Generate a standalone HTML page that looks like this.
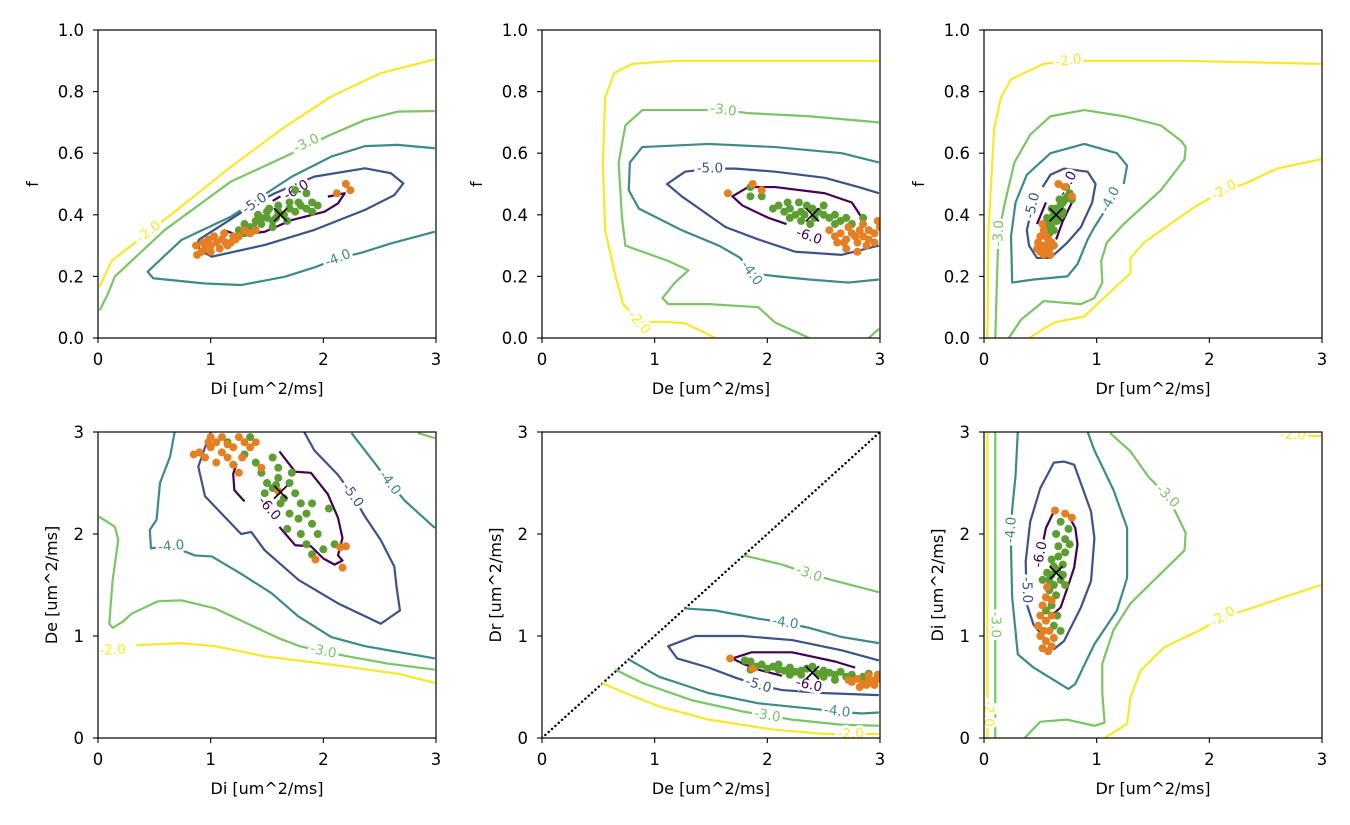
<!DOCTYPE html>
<html><head><meta charset="utf-8">
<style>
html,body{margin:0;padding:0;background:#fff;}
svg{display:block;font-family:"DejaVu Sans","Liberation Sans",sans-serif;}
</style></head>
<body>
<svg id="fig" width="1350" height="825" viewBox="0 0 1350 825"></svg>
<script>
// ---- data ----
const levels = [-6,-5,-4,-3,-2];
const levelColors = {"-6":"#440154","-5":"#3b528b","-4":"#3d8a88","-3":"#7ac564","-2":"#fde725"};

const p1_c2 = [[0.015,0.167],[0.12,0.25],[0.33,0.31],[0.68,0.41],[1.18,0.556],[1.66,0.686],[2.07,0.784],[2.51,0.86],[2.99,0.905]];
const p1_c3 = [[0.015,0.09],[0.09,0.145],[0.15,0.2],[0.59,0.35],[1.18,0.508],[1.66,0.589],[2.04,0.656],[2.37,0.708],[2.66,0.735],[2.99,0.737]];
const p1_c4 = [[2.99,0.616],[2.66,0.627],[2.37,0.623],[2.07,0.589],[1.72,0.524],[1.18,0.394],[0.74,0.318],[0.55,0.253],[0.44,0.215],[0.49,0.194],[0.95,0.177],[1.27,0.172],[1.66,0.199],[1.92,0.229],[2.13,0.259],[2.34,0.277],[2.6,0.307],[2.99,0.345]];
const p1_c5 = [[0.89,0.318],[1.24,0.4],[1.39,0.437],[1.57,0.47],[1.92,0.524],[2.37,0.551],[2.6,0.535],[2.71,0.502],[2.63,0.464],[2.37,0.416],[1.92,0.351],[1.48,0.302],[1.01,0.264],[0.9,0.286],[0.89,0.318]];
const p1_c6 = [[2.04,0.459],[2.19,0.47],[2.13,0.437],[2.01,0.41],[1.72,0.383],[1.48,0.345],[1.24,0.334],[1.12,0.35]];
const p1_c6b = [[1.55,0.445],[1.62,0.46]];
const p1_labels = [[-2,0.45,0.345],[-3,1.85,0.632],[-4,2.13,0.259],[-5,1.39,0.437],[-6,1.76,0.48]];
const p1_green = [[1.25,0.35],[1.3,0.37],[1.35,0.36],[1.4,0.38],[1.45,0.37],[1.5,0.39],[1.55,0.38],[1.5,0.41],[1.6,0.41],[1.65,0.40],[1.7,0.42],[1.75,0.41],[1.8,0.43],[1.85,0.42],[1.9,0.44],[1.95,0.43],[1.7,0.44],[1.6,0.43],[1.42,0.40],[1.85,0.47],[1.75,0.48],[1.55,0.36],[1.3,0.34],[1.9,0.41],[1.68,0.38],[1.45,0.39],[1.58,0.39],[1.78,0.44],[1.38,0.36],[1.52,0.42]];
const p1_orange = [[0.87,0.30],[0.88,0.27],[0.95,0.29],[1.0,0.30],[1.05,0.31],[1.0,0.28],[1.1,0.32],[1.15,0.30],[1.2,0.33],[0.93,0.31],[1.08,0.29],[1.25,0.33],[1.3,0.35],[1.35,0.34],[1.4,0.35],[1.18,0.31],[0.98,0.32],[1.12,0.34],[2.2,0.50],[2.24,0.48],[2.12,0.47],[0.92,0.28],[1.03,0.33],[0.96,0.30],[1.13,0.31],[1.22,0.32]];
const p1_truth = [1.62,0.40];

const p2_c2 = [[2.99,0.90],[2.07,0.90],[1.18,0.90],[0.80,0.89],[0.64,0.86],[0.56,0.78],[0.54,0.57],[0.56,0.35],[0.64,0.22],[0.72,0.11],[0.86,0.05],[1.07,0.053],[1.27,0.048],[1.54,0.0]];
const p2_c3 = [[2.99,0.70],[2.37,0.72],[1.83,0.73],[1.61,0.74],[1.41,0.74],[0.89,0.74],[0.74,0.69],[0.68,0.57],[0.71,0.39],[0.74,0.30],[1.12,0.25],[1.30,0.22],[1.18,0.18],[1.07,0.13],[1.12,0.11],[1.48,0.11],[1.92,0.10],[2.07,0.05],[2.37,0.0]];
const p2_c3b = [[2.99,0.03],[2.90,0.0]];
const p2_c4 = [[2.99,0.57],[2.66,0.60],[2.07,0.62],[1.48,0.63],[0.89,0.62],[0.78,0.57],[0.77,0.48],[0.86,0.42],[1.24,0.35],[1.57,0.30],[1.76,0.26],[1.86,0.21],[2.09,0.20],[2.37,0.19],[2.72,0.18],[2.99,0.19]];
const p2_c5 = [[2.99,0.47],[2.81,0.49],[2.51,0.52],[2.07,0.54],[1.72,0.55],[1.49,0.55],[1.27,0.54],[1.11,0.50],[1.24,0.46],[1.63,0.36],[1.92,0.32],[2.25,0.28],[2.66,0.27],[2.99,0.30]];
const p2_c6 = [[2.84,0.39],[2.75,0.44],[2.51,0.47],[2.07,0.49],[1.83,0.49],[1.69,0.46],[1.78,0.43],[2.01,0.39],[2.17,0.37]];
const p2_labels = [[-2,0.86,0.05],[-3,1.61,0.74],[-4,1.86,0.21],[-5,1.49,0.55],[-6,2.37,0.33]];
const p2_green = [[1.85,0.46],[1.85,0.49],[1.95,0.46],[2.1,0.43],[2.15,0.41],[2.2,0.42],[2.25,0.40],[2.3,0.41],[2.35,0.43],[2.4,0.42],[2.45,0.41],[2.5,0.40],[2.55,0.39],[2.6,0.40],[2.65,0.38],[2.7,0.39],[2.75,0.37],[2.85,0.39],[2.9,0.35],[2.3,0.38],[2.2,0.39],[2.5,0.43],[2.38,0.37],[2.05,0.42],[2.28,0.44],[2.42,0.39],[2.18,0.44],[2.6,0.37],[2.33,0.40]];
const p2_orange = [[1.65,0.47],[1.87,0.50],[1.95,0.48],[2.55,0.35],[2.6,0.33],[2.65,0.34],[2.7,0.32],[2.75,0.34],[2.8,0.31],[2.85,0.33],[2.9,0.35],[2.95,0.34],[3.0,0.36],[2.7,0.29],[2.8,0.28],[2.88,0.30],[2.95,0.31],[2.62,0.31],[2.72,0.36],[2.98,0.38],[2.85,0.37],[2.78,0.33],[2.9,0.32],[2.68,0.31],[2.82,0.35]];
const p2_truth = [2.40,0.40];

const p3_c2 = [[0.03,0.0],[0.04,0.35],[0.09,0.68],[0.15,0.78],[0.24,0.84],[0.53,0.89],[0.75,0.90],[0.96,0.90],[1.78,0.90],[2.99,0.89]];
const p3_c2b = [[0.40,0.0],[0.62,0.05],[0.89,0.07],[1.18,0.17],[1.30,0.21],[1.30,0.26],[1.42,0.31],[1.69,0.38],[1.89,0.43],[2.13,0.48],[2.31,0.50],[2.60,0.55],[2.99,0.58]];
const p3_c3 = [[0.10,0.0],[0.12,0.25],[0.13,0.34],[0.18,0.43],[0.27,0.57],[0.41,0.66],[0.59,0.72],[0.89,0.74],[1.24,0.72],[1.57,0.69],[1.75,0.64],[1.79,0.62],[1.78,0.58],[1.57,0.48],[1.24,0.37],[1.09,0.31],[1.04,0.25],[1.05,0.18],[0.98,0.13],[0.86,0.11],[0.53,0.12],[0.33,0.06],[0.22,0.0]];
const p3_c4 = [[1.24,0.50],[1.27,0.56],[1.18,0.60],[0.89,0.63],[0.59,0.60],[0.38,0.53],[0.28,0.44],[0.24,0.33],[0.25,0.18],[0.44,0.19],[0.74,0.20],[0.83,0.24],[0.92,0.32],[0.98,0.36],[1.05,0.40],[1.12,0.45]];
const p3_c5 = [[0.43,0.43],[0.38,0.35],[0.40,0.30],[0.47,0.26],[0.59,0.26],[0.74,0.31],[0.86,0.36],[0.96,0.44],[0.99,0.50],[0.92,0.54],[0.71,0.55],[0.59,0.53],[0.52,0.49]];
const p3_c6 = [[0.55,0.44],[0.47,0.37]];
const p3_c6b = [[0.78,0.44],[0.70,0.38],[0.64,0.32]];
const p3_labels = [[-2,0.75,0.90],[-2,2.13,0.48],[-3,0.13,0.34],[-4,1.12,0.45],[-5,0.43,0.43],[-6,0.74,0.50]];
const p3_green = [[0.55,0.36],[0.58,0.38],[0.6,0.37],[0.62,0.40],[0.64,0.42],[0.66,0.41],[0.68,0.43],[0.7,0.44],[0.72,0.45],[0.74,0.46],[0.76,0.47],[0.78,0.45],[0.73,0.49],[0.62,0.35],[0.58,0.34],[0.65,0.38],[0.7,0.41],[0.56,0.39],[0.6,0.42],[0.67,0.45],[0.63,0.39],[0.69,0.40],[0.57,0.36]];
const p3_orange = [[0.47,0.29],[0.5,0.28],[0.53,0.27],[0.55,0.30],[0.58,0.29],[0.6,0.31],[0.5,0.33],[0.53,0.35],[0.57,0.32],[0.62,0.30],[0.48,0.31],[0.55,0.33],[0.72,0.49],[0.78,0.46],[0.66,0.50],[0.52,0.37],[0.59,0.27],[0.52,0.30],[0.56,0.28]];
const p3_truth = [0.64,0.40];

const p4_c2 = [[0.34,0.91],[0.74,0.93],[1.04,0.90],[1.48,0.80],[2.07,0.72],[2.66,0.63],[2.99,0.54]];
const p4_c3 = [[0.01,2.17],[0.15,2.07],[0.18,1.94],[0.13,1.55],[0.10,1.12],[0.13,1.08],[0.22,1.14],[0.30,1.22],[0.53,1.34],[0.74,1.35],[1.04,1.27],[1.33,1.12],[1.60,0.98],[1.79,0.90],[2.00,0.85],[2.22,0.80],[2.57,0.73],[2.99,0.67]];
const p4_c3b = [[2.84,2.99],[2.99,2.94]];
const p4_c4 = [[0.68,3.0],[0.64,2.76],[0.55,2.50],[0.52,2.14],[0.46,2.04],[0.47,1.86],[0.65,1.88],[0.86,1.79],[1.01,1.78],[1.27,1.61],[1.54,1.42],[1.78,1.19],[2.07,0.99],[2.37,0.90],[2.99,0.78]];
const p4_c4b = [[2.25,2.99],[2.46,2.69],[2.59,2.50],[2.72,2.33],[2.99,2.06]];
const p4_c5 = [[1.83,3.0],[1.92,2.82],[2.13,2.58],[2.26,2.38],[2.37,2.17],[2.51,1.94],[2.63,1.68],[2.65,1.48],[2.68,1.25],[2.51,1.12],[2.13,1.32],[1.78,1.55],[1.48,1.84],[1.36,2.02],[1.27,2.00],[0.95,2.37],[0.89,2.66],[0.95,2.85],[1.0,3.0]];
const p4_c6 = [[1.61,2.81],[1.75,2.61],[1.89,2.60],[2.04,2.39],[2.13,2.16],[2.17,1.96],[2.13,1.79],[2.17,1.74],[2.10,1.70],[2.00,1.76],[1.89,1.88],[1.75,1.89],[1.61,2.07]];
const p4_c6b = [[1.30,2.32],[1.21,2.43],[1.20,2.59],[1.23,2.69]];
const p4_labels = [[-2,0.13,0.86],[-3,2.00,0.85],[-4,0.65,1.88],[-4,2.59,2.50],[-5,2.26,2.38],[-6,1.52,2.25]];
const p4_green = [[1.15,2.9],[1.35,2.95],[1.3,2.78],[1.4,2.7],[1.45,2.6],[1.5,2.5],[1.55,2.45],[1.6,2.55],[1.7,2.5],[1.75,2.4],[1.65,2.35],[1.8,2.3],[1.85,2.2],[1.7,2.2],[1.9,2.1],[1.95,2.0],[1.8,2.0],[1.85,1.9],[2.0,1.85],[2.1,1.9],[1.9,1.8],[1.6,2.65],[1.48,2.4],[2.05,2.25],[1.55,2.75],[1.62,2.3],[1.78,2.15],[1.72,2.6],[1.9,2.3],[1.58,2.48],[1.68,2.05]];
const p4_orange = [[0.9,2.8],[0.95,2.75],[1.0,2.85],[1.05,2.9],[1.1,2.8],[1.15,2.75],[1.2,2.85],[1.25,2.95],[1.3,2.9],[1.0,2.95],[1.1,2.95],[1.35,2.85],[1.4,2.9],[0.85,2.78],[1.05,2.7],[1.2,2.68],[1.45,2.65],[1.6,2.42],[1.93,1.75],[2.15,1.87],[2.2,1.88],[2.17,1.67],[1.25,2.6],[0.98,2.9],[1.15,2.88],[1.28,2.75]];
const p4_truth = [1.62,2.41];

const p5_c2 = [[0.53,0.54],[0.74,0.44],[1.04,0.31],[1.48,0.18],[2.07,0.08],[2.51,0.04],[2.74,0.04],[2.99,0.04]];
const p5_c3 = [[0.65,0.67],[0.89,0.54],[1.33,0.37],[1.78,0.26],[2.00,0.22],[2.22,0.18],[2.66,0.13],[2.99,0.12]];
const p5_c3b = [[1.79,1.79],[2.13,1.70],[2.37,1.61],[2.57,1.55],[2.99,1.43]];
const p5_c4 = [[1.27,1.27],[1.54,1.25],[1.92,1.17],[2.16,1.13],[2.37,1.08],[2.66,0.99],[2.99,0.93]];
const p5_c4b = [[0.77,0.77],[1.04,0.60],[1.48,0.44],[1.92,0.34],[2.37,0.29],[2.62,0.26],[2.84,0.24],[2.99,0.25]];
const p5_c5 = [[2.99,0.76],[2.66,0.86],[2.22,0.96],[1.78,1.0],[1.36,1.0],[1.12,0.90],[1.20,0.78],[1.48,0.69],[1.72,0.59],[1.92,0.52],[2.13,0.47],[2.51,0.44],[2.99,0.42]];
const p5_c6 = [[2.78,0.69],[2.60,0.75],[2.22,0.84],[1.86,0.84],[1.69,0.78],[1.78,0.73],[1.92,0.67],[2.13,0.61]];
const p5_labels = [[-2,2.74,0.04],[-3,2.00,0.22],[-3,2.37,1.61],[-4,2.16,1.13],[-4,2.62,0.26],[-5,1.92,0.52],[-6,2.37,0.52]];
const p5_green = [[1.8,0.76],[1.85,0.75],[1.9,0.7],[1.95,0.72],[2.0,0.68],[2.05,0.7],[2.1,0.67],[2.15,0.66],[2.2,0.69],[2.25,0.65],[2.3,0.66],[2.35,0.68],[2.45,0.63],[2.5,0.66],[2.55,0.64],[2.6,0.62],[2.65,0.65],[2.7,0.6],[2.75,0.62],[2.85,0.6],[2.9,0.63],[2.6,0.57],[1.85,0.67],[2.2,0.62],[2.4,0.70],[2.3,0.62],[2.5,0.60],[2.1,0.72]];
const p5_orange = [[1.67,0.78],[1.87,0.68],[2.75,0.55],[2.8,0.58],[2.85,0.53],[2.9,0.56],[2.95,0.52],[3.0,0.58],[2.82,0.5],[2.9,0.61],[2.98,0.62],[2.72,0.57],[2.88,0.52],[2.96,0.57]];
const p5_truth = [2.40,0.64];

const p6_c2 = [[0.03,3.0],[0.03,0.0]];
const p6_c2b = [[1.07,0.0],[1.27,0.14],[1.30,0.40],[1.39,0.66],[1.60,0.89],[1.92,1.06],[2.12,1.19],[2.31,1.25],[2.66,1.38],[2.99,1.50]];
const p6_c2c = [[2.6,2.97],[2.99,2.96]];
const p6_c3 = [[0.10,3.0],[0.10,0.0]];
const p6_c3b = [[1.12,2.99],[1.30,2.81],[1.46,2.56],[1.63,2.37],[1.72,2.17],[1.79,2.01],[1.78,1.84],[1.54,1.58],[1.30,1.32],[1.15,1.06],[1.05,0.73],[1.05,0.44],[1.07,0.15],[0.98,0.12],[0.74,0.18],[0.50,0.16],[0.36,0.0]];
const p6_c4 = [[0.30,3.0],[0.28,2.57],[0.25,2.24],[0.24,2.04],[0.24,1.84],[0.25,1.38],[0.30,0.82],[0.44,0.69],[0.75,0.48],[0.81,0.53],[0.98,0.92],[1.18,1.25],[1.27,1.57],[1.27,2.06],[1.15,2.43],[0.98,2.82],[0.92,3.0]];
const p6_c5 = [[0.38,1.31],[0.44,1.11],[0.56,0.95],[0.62,0.87],[0.71,0.95],[0.86,1.28],[0.95,1.54],[0.98,1.96],[0.95,2.22],[0.80,2.68],[0.71,2.71],[0.62,2.70],[0.50,2.45],[0.41,2.12],[0.37,1.73],[0.38,1.31]];
const p6_c6 = [[0.62,2.22],[0.55,2.06],[0.52,1.9]];
const p6_c6b = [[0.74,2.20],[0.81,2.06],[0.83,1.90],[0.80,1.67],[0.74,1.47],[0.68,1.28],[0.62,1.22]];
const p6_labels = [[-2,0.04,0.24],[-2,2.74,2.97],[-2,2.12,1.19],[-3,0.10,1.11],[-3,1.63,2.37],[-4,0.24,2.04],[-5,0.38,1.45],[-6,0.50,1.80]];
const p6_green = [[0.64,2.0],[0.68,2.12],[0.75,2.05],[0.72,1.95],[0.76,1.9],[0.72,1.82],[0.66,1.78],[0.7,1.7],[0.6,1.75],[0.65,1.65],[0.6,1.6],[0.68,1.55],[0.62,1.5],[0.56,1.62],[0.58,1.45],[0.64,1.4],[0.6,1.3],[0.55,1.25],[0.65,1.2],[0.62,1.1],[0.68,1.05],[0.72,1.5],[0.52,1.55],[0.66,1.88],[0.62,1.68],[0.7,1.6],[0.58,1.55]];
const p6_orange = [[0.63,2.23],[0.72,2.2],[0.78,2.16],[0.55,1.38],[0.52,1.3],[0.5,1.2],[0.55,1.15],[0.58,1.05],[0.5,1.0],[0.55,0.95],[0.6,0.9],[0.52,0.88],[0.62,0.98],[0.57,0.85],[0.48,1.1],[0.6,1.35],[0.56,1.48],[0.53,1.05],[0.6,1.2]];
const p6_truth = [0.64,1.62];

const topYTicks = [0.0,0.2,0.4,0.6,0.8,1.0];
const botYTicks = [0,1,2,3];
const xTicks = [0,1,2,3];

// ---- layout ----
const NS = "http://www.w3.org/2000/svg";
const svg = document.getElementById('fig');
function mk(tag, attrs, parent){const e=document.createElementNS(NS,tag);for(const k in attrs)e.setAttribute(k,attrs[k]);(parent||svg).appendChild(e);return e;}

const panels = [
 {name:'di-f', x0:98, y0:30, h:308, ymax:1, yt:topYTicks, yfmt:v=>v.toFixed(1), xl:'Di [um^2/ms]', yl:'f',
  cs:[[-2,p1_c2],[-3,p1_c3],[-4,p1_c4],[-5,p1_c5],[-6,p1_c6],[-6,p1_c6b]], labels:p1_labels, g:p1_green, o:p1_orange, t:p1_truth},
 {name:'de-f', x0:542, y0:30, h:308, ymax:1, yt:topYTicks, yfmt:v=>v.toFixed(1), xl:'De [um^2/ms]', yl:'f',
  cs:[[-2,p2_c2],[-3,p2_c3],[-3,p2_c3b],[-4,p2_c4],[-5,p2_c5],[-6,p2_c6]], labels:p2_labels, g:p2_green, o:p2_orange, t:p2_truth},
 {name:'dr-f', x0:984, y0:30, h:308, ymax:1, yt:topYTicks, yfmt:v=>v.toFixed(1), xl:'Dr [um^2/ms]', yl:'f',
  cs:[[-2,p3_c2],[-2,p3_c2b],[-3,p3_c3],[-4,p3_c4],[-5,p3_c5],[-6,p3_c6],[-6,p3_c6b]], labels:p3_labels, g:p3_green, o:p3_orange, t:p3_truth},
 {name:'di-de', x0:98, y0:432, h:306, ymax:3, yt:botYTicks, yfmt:v=>String(v), xl:'Di [um^2/ms]', yl:'De [um^2/ms]',
  cs:[[-2,p4_c2],[-3,p4_c3],[-3,p4_c3b],[-4,p4_c4],[-4,p4_c4b],[-5,p4_c5],[-6,p4_c6],[-6,p4_c6b]], labels:p4_labels, g:p4_green, o:p4_orange, t:p4_truth},
 {name:'de-dr', x0:542, y0:432, h:306, ymax:3, yt:botYTicks, yfmt:v=>String(v), xl:'De [um^2/ms]', yl:'Dr [um^2/ms]', diag:true,
  cs:[[-2,p5_c2],[-3,p5_c3],[-3,p5_c3b],[-4,p5_c4],[-4,p5_c4b],[-5,p5_c5],[-6,p5_c6]], labels:p5_labels, g:p5_green, o:p5_orange, t:p5_truth},
 {name:'dr-di', x0:984, y0:432, h:306, ymax:3, yt:botYTicks, yfmt:v=>String(v), xl:'Dr [um^2/ms]', yl:'Di [um^2/ms]',
  cs:[[-2,p6_c2],[-2,p6_c2b],[-2,p6_c2c],[-3,p6_c3],[-3,p6_c3b],[-4,p6_c4],[-5,p6_c5],[-6,p6_c6],[-6,p6_c6b]], labels:p6_labels, g:p6_green, o:p6_orange, t:p6_truth}
];
const W = 338;

panels.forEach((p,pi)=>{
  const sx = v => p.x0 + v/3*W;
  const sy = v => p.y0 + p.h - v/p.ymax*p.h;
  const g = mk('g',{});
  
  
  const cid = 'clip'+pi;
  const cp = mk('clipPath',{id:cid},g); mk('rect',{x:p.x0,y:p.y0,width:W,height:p.h},cp);
  const plot = mk('g',{'clip-path':'url(#'+cid+')'},g);

  if(p.diag){
    const d = mk('line',{x1:sx(0),y1:sy(0),x2:sx(3),y2:sy(3),stroke:'#000','stroke-width':2.4,'stroke-dasharray':'0.1 4.4','stroke-linecap':'round'},plot);
    
    
  }
  p.cs.forEach(([lv,pts])=>{
    const pl = mk('polyline',{points:pts.map(q=>sx(q[0])+','+sy(q[1])).join(' '),fill:'none',stroke:levelColors[lv],'stroke-width':2.2,'stroke-linejoin':'round'},plot);
    
    
  });
  p.labels.forEach(([lv,lx,ly])=>{
    const X=sx(lx),Y=sy(ly);
    let best=1e9,ang=0;
    p.cs.filter(c=>c[0]===lv).forEach(([_,pts])=>{
      for(let i=0;i<pts.length-1;i++){
        const ax=sx(pts[i][0]),ay=sy(pts[i][1]),bx=sx(pts[i+1][0]),by=sy(pts[i+1][1]);
        const dx=bx-ax,dy=by-ay,L=dx*dx+dy*dy||1;
        let t=((X-ax)*dx+(Y-ay)*dy)/L;t=Math.max(0,Math.min(1,t));
        const d=Math.hypot(ax+t*dx-X,ay+t*dy-Y);
        if(d<best){best=d;ang=Math.atan2(dy,dx)*180/Math.PI;}
      }
    });
    if(ang>90)ang-=180; if(ang<=-90)ang+=180;
    const t = mk('text',{x:X,y:Y,'font-size':13.5,fill:levelColors[lv],'text-anchor':'middle','dominant-baseline':'central',
      transform:'rotate('+ang.toFixed(1)+' '+X+' '+Y+')',stroke:'#fff','stroke-width':6,'paint-order':'stroke'},plot);
    t.textContent = lv.toFixed(1);
    
    
  });
  p.g.forEach(q=>{
    const c=mk('circle',{cx:sx(q[0]),cy:sy(q[1]),r:4,fill:'#5c9e31'},plot);
    
    
  });
  p.o.forEach(q=>{
    const c=mk('circle',{cx:sx(q[0]),cy:sy(q[1]),r:4,fill:'#e67e22'},plot);
    
    
  });
  const tx=sx(p.t[0]),ty=sy(p.t[1]);
  const xm = mk('path',{d:`M${tx-6.5},${ty-6.5}L${tx+6.5},${ty+6.5}M${tx-6.5},${ty+6.5}L${tx+6.5},${ty-6.5}`,stroke:'#000','stroke-width':1.7,fill:'none'},g);
  
  
  const fr = mk('rect',{x:p.x0,y:p.y0,width:W,height:p.h,fill:'none',stroke:'#000','stroke-width':1.2},g);
  
  
  xTicks.forEach(v=>{
    mk('line',{x1:sx(v),y1:p.y0+p.h,x2:sx(v),y2:p.y0+p.h+5,stroke:'#000','stroke-width':1.1},g);
    const t=mk('text',{x:sx(v),y:p.y0+p.h+27,'font-size':16.5,'text-anchor':'middle',fill:'#000'},g);
    t.textContent=String(v);
    
    
  });
  p.yt.forEach(v=>{
    mk('line',{x1:p.x0-5,y1:sy(v),x2:p.x0,y2:sy(v),stroke:'#000','stroke-width':1.1},g);
    const t=mk('text',{x:p.x0-14,y:sy(v)+6,'font-size':16.5,'text-anchor':'end',fill:'#000'},g);
    t.textContent=p.yfmt(v);
    
    
  });
  const xl=mk('text',{x:p.x0+W/2,y:p.y0+p.h+56,'font-size':16,'text-anchor':'middle',fill:'#000'},g);
  xl.textContent=p.xl;
  
  
  const yx = p.x0 - (p.ymax===1?60:41), yy = p.y0+p.h/2;
  const yl=mk('text',{x:yx,y:yy,'font-size':16,'text-anchor':'middle',fill:'#000',transform:`rotate(-90 ${yx} ${yy})`},g);
  yl.textContent=p.yl;
  
  
});
</script>
</body></html>
